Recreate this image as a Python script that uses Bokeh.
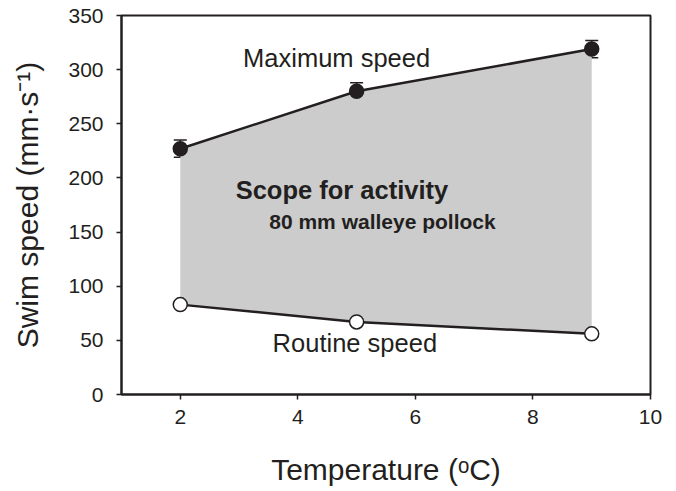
from bokeh.plotting import figure
from bokeh.models import ColumnDataSource, Whisker, Range1d, FixedTicker, Label
from bokeh.embed import file_html
from bokeh.resources import INLINE

temperature = [2, 5, 9]
max_speed = [227, 280, 319]
max_err = [8, 8, 8]
routine_speed = [83, 67, 56]
routine_err = [3, 3, 3]
x_ticks = [2, 4, 6, 8, 10]
y_ticks = [0, 50, 100, 150, 200, 250, 300, 350]

INK = "#231f20"
FONT = "Liberation Sans"

p = figure(width=676, height=491, output_backend="svg", toolbar_location=None,
           x_range=Range1d(1, 10), y_range=Range1d(0, 350),
           min_border_left=121, min_border_right=26, min_border_top=15, min_border_bottom=97)
p.xgrid.visible = False
p.ygrid.visible = False
p.outline_line_color = INK
p.outline_line_width = 2
p.background_fill_color = "white"
p.border_fill_color = "white"

# scope area
px = temperature + temperature[::-1]
py = max_speed + routine_speed[::-1]
p.patch(px, py, fill_color="#cccccc", line_color=None)

src_max = ColumnDataSource(dict(x=temperature, y=max_speed,
                                lo=[m - e for m, e in zip(max_speed, max_err)],
                                hi=[m + e for m, e in zip(max_speed, max_err)]))
src_rt = ColumnDataSource(dict(x=temperature, y=routine_speed,
                               lo=[m - e for m, e in zip(routine_speed, routine_err)],
                               hi=[m + e for m, e in zip(routine_speed, routine_err)]))

p.line("x", "y", source=src_max, line_color=INK, line_width=2.5)
p.line("x", "y", source=src_rt, line_color=INK, line_width=2.5)

for s in (src_max, src_rt):
    w = Whisker(source=s, base="x", lower="lo", upper="hi", dimension="height",
                line_color=INK, line_width=1.5)
    w.upper_head.size = 13
    w.lower_head.size = 13
    w.upper_head.line_color = INK
    w.lower_head.line_color = INK
    w.upper_head.line_width = 1.5
    w.lower_head.line_width = 1.5
    p.add_layout(w)

p.scatter("x", "y", source=src_max, size=14, fill_color=INK, line_color=INK, line_width=1.5)
p.scatter("x", "y", source=src_rt, size=14, fill_color="white", line_color=INK, line_width=1.5)

# annotations
p.add_layout(Label(x=4.66, y=311, text="Maximum speed", text_align="center", text_baseline="middle",
                   text_font=FONT, text_font_size="25.5px", text_color=INK))
p.add_layout(Label(x=4.97, y=48, text="Routine speed", text_align="center", text_baseline="middle",
                   text_font=FONT, text_font_size="25.5px", text_color=INK))
p.add_layout(Label(x=4.75, y=189, text="Scope for activity", text_align="center", text_baseline="middle",
                   text_font=FONT, text_font_size="25.5px", text_font_style="bold", text_color=INK))
p.add_layout(Label(x=5.44, y=160, text="80 mm walleye pollock", text_align="center", text_baseline="middle",
                   text_font=FONT, text_font_size="21px", text_font_style="bold", text_color=INK))

for ax in (p.xaxis[0], p.yaxis[0]):
    ax.axis_line_color = INK
    ax.axis_line_width = 2
    ax.major_tick_line_color = INK
    ax.major_tick_line_width = 1.5
    ax.major_tick_out = 5
    ax.major_tick_in = 0
    ax.minor_tick_line_color = None
    ax.major_label_text_font = FONT
    ax.major_label_text_font_size = "21px"
    ax.major_label_text_color = INK
    ax.axis_label_text_font = FONT
    ax.axis_label_text_font_size = "30px"
    ax.axis_label_text_font_style = "normal"
    ax.axis_label_text_color = INK

p.xaxis.ticker = FixedTicker(ticks=x_ticks)
p.yaxis.ticker = FixedTicker(ticks=y_ticks)
p.xaxis.axis_label = "Temperature (ᵒC)"
p.yaxis.axis_label = "Swim speed (mm·s⁻¹)"
p.xaxis.major_label_standoff = 10
p.yaxis.major_label_standoff = 13
p.xaxis.axis_label_standoff = 26
p.yaxis.axis_label_standoff = 21

open("out.html", "w").write(file_html(p, INLINE))
